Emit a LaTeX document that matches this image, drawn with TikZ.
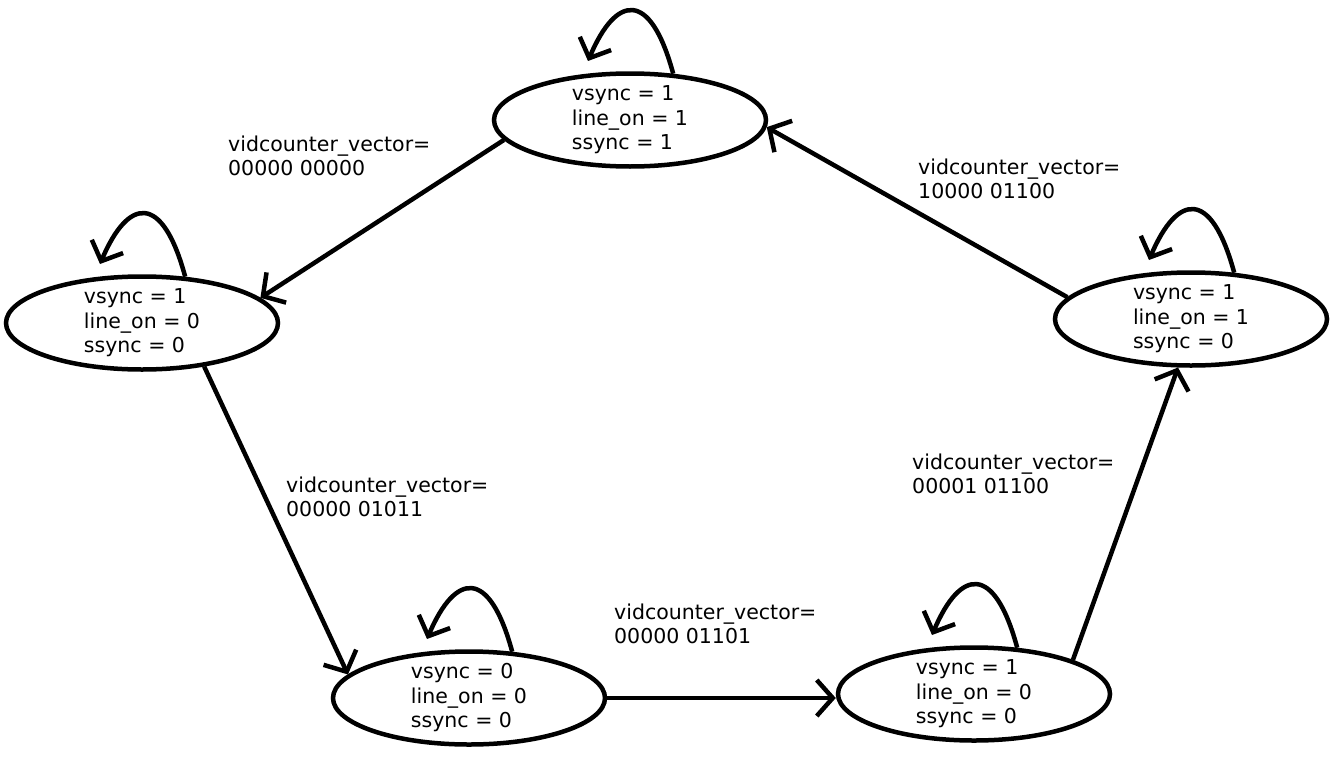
\documentclass[tikz,border=0pt]{standalone}
\usepackage{fontspec}
\setmainfont{DejaVu Sans}
\usetikzlibrary{shapes.geometric, arrows.meta}

\tikzset{
    state/.style={ellipse, draw, line width=4.5pt, minimum width=272pt, minimum height=93pt,
        inner xsep=0pt, inner ysep=-6pt, align=left, font=\fontsize{20.5}{24.5}\selectfont},
    trans/.style={line width=4.5pt, -{Straight Barb[length=16pt, width=36pt]}},
    selfloop/.style={line width=4.5pt, -{Straight Barb[length=16pt, width=34pt]}},
    cond/.style={anchor=base west, align=left, inner sep=0pt, font=\fontsize{20.5}{24.5}\selectfont},
}

\begin{document}
\begin{tikzpicture}[x=1pt, y=-1pt]
    \useasboundingbox (0,0) rectangle (1340,760);

    % States
    \node[state] (S1) at (630,120) {vsync = 1\\line\_on = 1\\ssync = 1};
    \node[state] (S2) at (142,323) {vsync = 1\\line\_on = 0\\ssync = 0};
    \node[state] (S3) at (469,698) {vsync = 0\\line\_on = 0\\ssync = 0};
    \node[state] (S4) at (974,694) {vsync = 1\\line\_on = 0\\ssync = 0};
    \node[state] (S5) at (1191,319) {vsync = 1\\line\_on = 1\\ssync = 0};

    % Self loops on every state
    \foreach \s in {S1, S2, S3, S4, S5} {
        \coordinate (\s-back) at ([shift={(-42,-59)}]\s.center);
        \draw[selfloop] (\s.47) .. controls +(-23,-85) and +(28,-66) .. (\s-back);
    }

    % Transitions
    \draw[trans] (S1.189) -- (S2.12);
    \draw[trans] (S2.-35) -- (S3.169);
    \draw[trans] (S3.east) -- (S3.east -| S4.west);
    \draw[trans] (S4.19) -- (S5.255);
    \draw[trans] (S5.170) -- (S1.-3);

    % Transition conditions
    \node[cond] (C12) at (228,175.5) {vidcounter\_vector=\\00000 00000};
    \node[cond] (C23) at (286,516.5) {vidcounter\_vector=\\00000 01011};
    \node[cond] (C34) at (614,643.5) {vidcounter\_vector=\\00000 01101};
    \node[cond] (C45) at (912,493.5) {vidcounter\_vector=\\00001 01100};
    \node[cond] (C51) at (918,198.5) {vidcounter\_vector=\\10000 01100};

\end{tikzpicture}
\end{document}
